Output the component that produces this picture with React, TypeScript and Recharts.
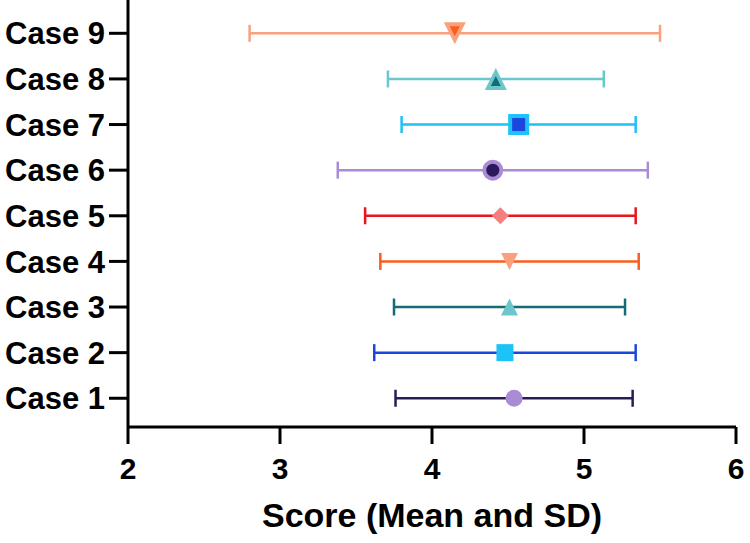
import React from 'react';
import { ScatterChart, Scatter, XAxis, YAxis, ErrorBar } from 'recharts';

// values
const caseLabels = ['Case 1', 'Case 2', 'Case 3', 'Case 4', 'Case 5', 'Case 6', 'Case 7', 'Case 8', 'Case 9'];
const meanScores = [4.54, 4.48, 4.51, 4.51, 4.45, 4.4, 4.57, 4.42, 4.15];
const sdScores = [0.78, 0.86, 0.76, 0.85, 0.89, 1.02, 0.77, 0.71, 1.35];
const xTicks = [2, 3, 4, 5, 6];
const yTicks = [1, 2, 3, 4, 5, 6, 7, 8, 9];

const LAVENDER = '#A98BD6';
const PURPLE = '#2B1A5A';
const CYAN = '#1DC2F7';
const BLUE = '#1B47E0';
const LIGHT_TEAL = '#6CC7CC';
const DARK_TEAL = '#126C78';
const SALMON = '#FBA07C';
const ORANGE = '#F85E1E';
const PINK = '#F77E7E';
const RED = '#E8151B';

const FONT = '"Liberation Sans", Arial, sans-serif';

type ShapeKind = 'circle' | 'square' | 'triangle' | 'down' | 'diamond';

interface SeriesStyle {
    line: string;
    shape: ShapeKind;
    fill: string;
    size: number;
    inner?: string;
    innerSize?: number;
}

const seriesStyles: SeriesStyle[] = [
    { line: PURPLE, shape: 'circle', fill: LAVENDER, size: 17 },
    { line: BLUE, shape: 'square', fill: CYAN, size: 17 },
    { line: DARK_TEAL, shape: 'triangle', fill: LIGHT_TEAL, size: 17 },
    { line: ORANGE, shape: 'down', fill: SALMON, size: 17 },
    { line: RED, shape: 'diamond', fill: PINK, size: 17 },
    { line: LAVENDER, shape: 'circle', fill: LAVENDER, size: 21, inner: PURPLE, innerSize: 13 },
    { line: CYAN, shape: 'square', fill: CYAN, size: 21, inner: BLUE, innerSize: 13 },
    { line: LIGHT_TEAL, shape: 'triangle', fill: LIGHT_TEAL, size: 22, inner: DARK_TEAL, innerSize: 10 },
    { line: SALMON, shape: 'down', fill: SALMON, size: 22, inner: ORANGE, innerSize: 10 }
];

const drawShape = (kind: ShapeKind, cx: number, cy: number, s: number, fill: string, key: string) => {
    const h = s / 2;
    switch (kind) {
        case 'circle':
            return <circle key={key} cx={cx} cy={cy} r={h} fill={fill} />;
        case 'square':
            return <rect key={key} x={cx - h} y={cy - h} width={s} height={s} fill={fill} />;
        case 'triangle':
            return <path key={key} d={`M${cx},${cy - h}L${cx + h},${cy + h}L${cx - h},${cy + h}Z`} fill={fill} />;
        case 'down':
            return <path key={key} d={`M${cx - h},${cy - h}L${cx + h},${cy - h}L${cx},${cy + h}Z`} fill={fill} />;
        default:
            return <path key={key} d={`M${cx},${cy - h}L${cx + h},${cy}L${cx},${cy + h}L${cx - h},${cy}Z`} fill={fill} />;
    }
};

const makeMarker = (st: SeriesStyle) => (props: any) => {
    const { cx, cy } = props;
    if (cx == null || cy == null) return <g />;
    const innerCy = st.shape === 'triangle' ? cy + 2 : st.shape === 'down' ? cy - 2 : cy;
    return (
        <g>
            {drawShape(st.shape, cx, cy, st.size, st.fill, 'o')}
            {st.inner && drawShape(st.shape, cx, innerCy, st.innerSize || 10, st.inner, 'i')}
        </g>
    );
};

const YTick = ({ x, y, payload }: any) => (
    <text
        x={x}
        y={y}
        textAnchor="end"
        dy="0.36em"
        fontFamily={FONT}
        fontWeight="bold"
        fontSize={31}
        fill="#000"
    >
        {caseLabels[payload.value - 1]}
    </text>
);

const XTick = ({ x, y, payload }: any) => (
    <text
        x={x}
        y={y}
        textAnchor="middle"
        dy="0.72em"
        fontFamily={FONT}
        fontWeight="bold"
        fontSize={30}
        fill="#000"
    >
        {payload.value}
    </text>
);

const XTitle = ({ viewBox }: any) => {
    const { x, y, width } = viewBox;
    return (
        <text
            x={x + width / 2}
            y={y + 100}
            textAnchor="middle"
            fontFamily={FONT}
            fontWeight="bold"
            fontSize={34}
            fill="#000"
        >
            Score (Mean and SD)
        </text>
    );
};

const App: React.FC = () => {
    const seriesData = caseLabels.map((_, i) => [{ x: meanScores[i], y: i + 1, sd: sdScores[i] }]);

    return (
        <div style={{ width: 750, height: 543, background: '#fff' }}>
            <style>{'body{margin:0}'}</style>
            <ScatterChart width={750} height={543} margin={{ top: 0, right: 14, bottom: 0, left: 0 }}>
                <XAxis
                    type="number"
                    dataKey="x"
                    domain={[2, 6]}
                    ticks={xTicks}
                    allowDataOverflow
                    height={116}
                    axisLine={{ stroke: '#000', strokeWidth: 3 }}
                    tickLine={{ stroke: '#000', strokeWidth: 3 }}
                    tickSize={17}
                    tickMargin={13}
                    tick={<XTick />}
                    label={<XTitle />}
                />
                <YAxis
                    type="number"
                    dataKey="y"
                    domain={[0.37, 9.73]}
                    ticks={yTicks}
                    allowDataOverflow
                    width={128}
                    axisLine={{ stroke: '#000', strokeWidth: 3 }}
                    tickLine={{ stroke: '#000', strokeWidth: 3 }}
                    tickSize={19}
                    tickMargin={4}
                    tick={<YTick />}
                />
                {seriesStyles.map((st, i) => (
                    <Scatter
                        key={caseLabels[i]}
                        name={caseLabels[i]}
                        data={seriesData[i]}
                        shape={makeMarker(st)}
                        isAnimationActive={false}
                    >
                        <ErrorBar
                            dataKey="sd"
                            direction="x"
                            width={8.5}
                            stroke={st.line}
                            strokeWidth={2.5}
                            isAnimationActive={false}
                        />
                    </Scatter>
                ))}
            </ScatterChart>
        </div>
    );
};

export default App;
